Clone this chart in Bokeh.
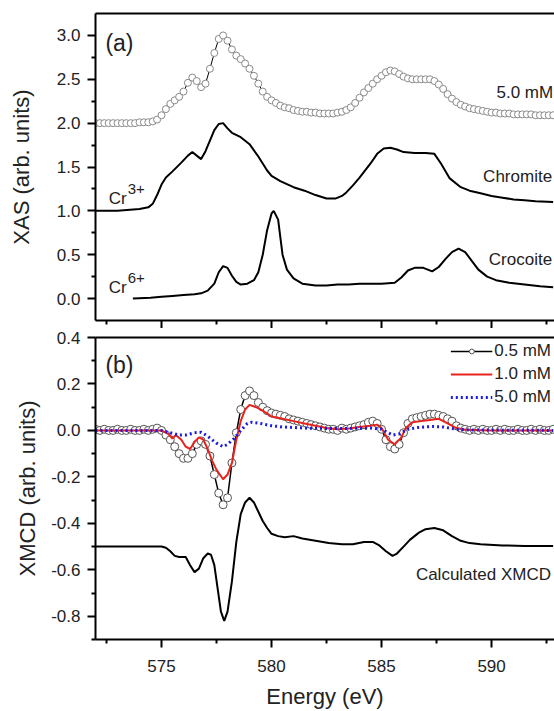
from bokeh.plotting import figure
from bokeh.models import (Range1d, FixedTicker, LinearAxis, Label, Legend, LegendItem,
                          PrintfTickFormatter, CustomJSTickFormatter)
from bokeh.layouts import column
from bokeh.embed import file_html
from bokeh.resources import INLINE

FONT = "Liberation Sans"

# ---------------- data ----------------
# common energy grid of the measured (circle) spectra, eV
energy_pts = [572.0, 572.2, 572.4, 572.6, 572.8, 573.0, 573.2, 573.4, 573.6, 573.8,
              574.0, 574.2, 574.4, 574.6, 574.8, 575.0, 575.2, 575.4, 575.6, 575.8,
              576.0, 576.2, 576.4, 576.6, 576.8, 577.0, 577.2, 577.4, 577.6, 577.8,
              578.0, 578.2, 578.4, 578.6, 578.8, 579.0, 579.2, 579.4, 579.6, 579.8,
              580.0, 580.2, 580.4, 580.6, 580.8, 581.0, 581.2, 581.4, 581.6, 581.8,
              582.0, 582.2, 582.4, 582.6, 582.8, 583.0, 583.2, 583.4, 583.6, 583.8,
              584.0, 584.2, 584.4, 584.6, 584.8, 585.0, 585.2, 585.4, 585.6, 585.8,
              586.0, 586.2, 586.4, 586.6, 586.8, 587.0, 587.2, 587.4, 587.6, 587.8,
              588.0, 588.2, 588.4, 588.6, 588.8, 589.0, 589.2, 589.4, 589.6, 589.8,
              590.0, 590.2, 590.4, 590.6, 590.8, 591.0, 591.2, 591.4, 591.6, 591.8,
              592.0, 592.2, 592.4, 592.6, 592.8]

# (a) XAS 5.0 mM (offset +2)
xas_5mM = [2.00, 2.00, 2.00, 2.00, 2.00, 2.00, 2.00, 2.00, 2.00, 2.00,
           2.01, 2.01, 2.01, 2.02, 2.04, 2.09, 2.16, 2.22, 2.26, 2.30,
           2.36, 2.46, 2.52, 2.48, 2.41, 2.45, 2.62, 2.80, 2.96, 3.00,
           2.94, 2.84, 2.77, 2.73, 2.68, 2.62, 2.54, 2.45, 2.36, 2.30,
           2.26, 2.23, 2.20, 2.18, 2.17, 2.15, 2.14, 2.13, 2.13, 2.12,
           2.12, 2.11, 2.11, 2.11, 2.11, 2.12, 2.13, 2.15, 2.18, 2.23,
           2.29, 2.35, 2.40, 2.45, 2.50, 2.54, 2.58, 2.60, 2.59, 2.56,
           2.53, 2.51, 2.50, 2.50, 2.50, 2.50, 2.50, 2.48, 2.44, 2.39,
           2.33, 2.28, 2.24, 2.21, 2.19, 2.17, 2.16, 2.15, 2.14, 2.13,
           2.12, 2.12, 2.11, 2.11, 2.11, 2.10, 2.10, 2.10, 2.10, 2.10,
           2.09, 2.09, 2.09, 2.09, 2.09]

# (a) Chromite, Cr3+ reference (offset +1)
chromite_e = [572.0, 573.0, 574.0, 574.4, 574.6, 574.8, 575.0, 575.2, 575.5, 575.9,
              576.2, 576.4, 576.6, 576.8, 577.0, 577.2, 577.4, 577.6, 577.8, 578.0,
              578.2, 578.6, 579.0, 579.4, 579.8, 580.0, 580.4, 581.0, 581.5, 582.0,
              582.5, 582.9, 583.2, 583.4, 583.7, 584.0, 584.5, 584.8, 585.1, 585.4,
              585.7, 586.0, 586.5, 587.0, 587.4, 587.7, 588.1, 588.6, 589.0, 589.5,
              590.0, 590.5, 591.0, 591.5, 592.0, 592.8]
chromite_v = [1.00, 1.00, 1.02, 1.04, 1.08, 1.18, 1.30, 1.38, 1.45, 1.55,
              1.63, 1.67, 1.63, 1.59, 1.68, 1.80, 1.92, 1.99, 2.00, 1.94,
              1.89, 1.84, 1.76, 1.62, 1.46, 1.40, 1.34, 1.27, 1.23, 1.18,
              1.14, 1.14, 1.17, 1.21, 1.29, 1.38, 1.54, 1.65, 1.71, 1.72,
              1.70, 1.67, 1.66, 1.66, 1.65, 1.54, 1.37, 1.27, 1.23, 1.20,
              1.17, 1.15, 1.13, 1.12, 1.11, 1.10]

# (a) Crocoite, Cr6+ reference
crocoite_e = [573.7, 574.5, 575.0, 575.5, 576.0, 576.5, 576.8, 577.1, 577.4, 577.6,
              577.8, 578.0, 578.2, 578.4, 578.6, 578.9, 579.2, 579.4, 579.6, 579.8,
              580.0, 580.1, 580.3, 580.5, 580.7, 581.0, 581.4, 582.0, 582.5, 583.0,
              583.5, 584.0, 584.5, 585.0, 585.6, 585.9, 586.2, 586.5, 586.9, 587.3,
              587.6, 587.9, 588.2, 588.5, 588.8, 589.1, 589.4, 589.8, 590.2, 590.8,
              591.5, 592.2, 592.8]
crocoite_v = [0.00, 0.01, 0.02, 0.03, 0.04, 0.05, 0.06, 0.09, 0.17, 0.30,
              0.37, 0.35, 0.26, 0.19, 0.16, 0.17, 0.21, 0.30, 0.50, 0.78,
              0.97, 1.00, 0.90, 0.50, 0.33, 0.23, 0.17, 0.15, 0.15, 0.16,
              0.16, 0.17, 0.17, 0.17, 0.18, 0.24, 0.32, 0.35, 0.35, 0.31,
              0.36, 0.45, 0.53, 0.57, 0.53, 0.43, 0.33, 0.25, 0.21, 0.18,
              0.16, 0.14, 0.13]

# (b) XMCD 0.5 mM (circles)
xmcd_05mM = [0.005, 0.0, 0.005, 0.0, 0.0, 0.005, 0.0, 0.0, 0.005, 0.0,
             0.0, 0.005, 0.0, 0.005, 0.01, 0.0, -0.02, -0.04, -0.07, -0.10,
             -0.12, -0.12, -0.10, -0.06, -0.045, -0.06, -0.11, -0.19, -0.27, -0.32,
             -0.29, -0.14, -0.01, 0.09, 0.15, 0.17, 0.15, 0.12, 0.10, 0.085,
             0.075, 0.07, 0.065, 0.06, 0.05, 0.045, 0.04, 0.035, 0.03, 0.025,
             0.02, 0.015, 0.01, 0.005, 0.005, 0.0, 0.01, 0.005, 0.01, 0.015,
             0.02, 0.025, 0.035, 0.04, 0.03, 0.005, -0.04, -0.07, -0.08, -0.06,
             -0.01, 0.03, 0.05, 0.055, 0.06, 0.065, 0.07, 0.07, 0.065, 0.06,
             0.05, 0.04, 0.02, 0.01, 0.005, 0.0, 0.005, 0.0, 0.005, 0.0,
             0.0, 0.005, 0.0, 0.005, 0.0, 0.0, 0.005, 0.0, 0.0, 0.005,
             0.0, 0.005, 0.0, 0.0, 0.005]

# (b) XMCD 1.0 mM (red line)
xmcd_10_e = [572.0, 575.0, 575.3, 575.5, 575.65, 575.9, 576.1, 576.3, 576.5, 576.7,
             576.9, 577.1, 577.3, 577.5, 577.8, 578.0, 578.2, 578.4, 578.6, 578.8,
             579.0, 579.3, 579.6, 580.0, 580.5, 581.0, 581.5, 582.0, 582.5, 583.0,
             583.5, 584.0, 584.5, 584.8, 585.0, 585.3, 585.6, 585.9, 586.1, 586.4,
             586.8, 587.2, 587.6, 588.0, 588.4, 588.8, 590.0, 592.8]
xmcd_10_v = [0.0, 0.0, -0.015, -0.035, -0.02, -0.04, -0.07, -0.08, -0.05, -0.03,
             -0.04, -0.08, -0.13, -0.17, -0.21, -0.19, -0.14, -0.04, 0.04, 0.09,
             0.11, 0.10, 0.085, 0.06, 0.05, 0.04, 0.03, 0.02, 0.01, 0.005,
             0.008, 0.015, 0.02, 0.025, 0.01, -0.04, -0.06, -0.03, 0.01, 0.035,
             0.04, 0.045, 0.05, 0.03, 0.01, 0.003, 0.0, 0.0]

# (b) XMCD 5.0 mM (blue dotted)
xmcd_50_e = [572.0, 575.0, 575.4, 575.8, 576.1, 576.5, 576.8, 577.1, 577.5, 577.8,
             578.0, 578.3, 578.6, 578.9, 579.1, 579.5, 580.0, 580.5, 581.5, 583.0,
             584.5, 585.0, 585.5, 585.8, 586.2, 586.6, 587.3, 587.8, 588.4, 589.0,
             592.8]
xmcd_50_v = [0.0, 0.0, -0.01, -0.02, -0.02, -0.01, -0.008, -0.025, -0.055, -0.07,
             -0.06, -0.035, 0.0, 0.03, 0.035, 0.03, 0.02, 0.015, 0.01, 0.008,
             0.01, 0.005, -0.02, -0.015, 0.005, 0.012, 0.017, 0.015, 0.005, 0.002,
             0.0]

# (b) calculated XMCD (offset -0.5)
calc_e = [572.0, 575.0, 575.2, 575.4, 575.6, 575.8, 576.1, 576.3, 576.5, 576.7,
          576.9, 577.1, 577.25, 577.4, 577.55, 577.7, 577.85, 578.0, 578.2, 578.4,
          578.6, 578.8, 579.0, 579.2, 579.4, 579.6, 579.8, 580.0, 580.3, 580.6,
          581.0, 581.4, 582.0, 582.6, 583.2, 583.7, 584.2, 584.6, 584.9, 585.2,
          585.5, 585.7, 586.0, 586.3, 586.7, 587.0, 587.4, 587.8, 588.2, 588.6,
          589.0, 589.5, 590.5, 591.5, 592.8]
calc_v = [-0.5, -0.5, -0.505, -0.52, -0.54, -0.545, -0.545, -0.58, -0.61, -0.595,
          -0.55, -0.53, -0.535, -0.58, -0.68, -0.78, -0.82, -0.78, -0.65, -0.48,
          -0.36, -0.31, -0.29, -0.31, -0.35, -0.39, -0.42, -0.445, -0.455, -0.46,
          -0.455, -0.465, -0.475, -0.485, -0.49, -0.49, -0.48, -0.48, -0.495, -0.52,
          -0.54, -0.53, -0.50, -0.47, -0.44, -0.425, -0.42, -0.43, -0.455, -0.475,
          -0.485, -0.49, -0.495, -0.497, -0.498]

x_major = [575, 580, 585, 590]
x_minor = [572.5, 577.5, 582.5, 587.5, 592.5]
ya_major = [0.0, 0.5, 1.0, 1.5, 2.0, 2.5, 3.0]
ya_minor = [0.25, 0.75, 1.25, 1.75, 2.25, 2.75]
yb_major = [-0.8, -0.6, -0.4, -0.2, 0.0, 0.2, 0.4]
yb_minor = [-0.9, -0.7, -0.5, -0.3, -0.1, 0.1, 0.3]


def style_axis(ax):
    ax.axis_line_width = 2
    ax.axis_line_color = "black"
    ax.major_tick_line_width = 2
    ax.minor_tick_line_width = 2
    ax.major_tick_out = 8
    ax.major_tick_in = 0
    ax.minor_tick_out = 4
    ax.minor_tick_in = 0
    ax.major_label_text_font = FONT
    ax.major_label_text_font_size = "17px"
    ax.major_label_text_color = "#222222"
    ax.axis_label_text_font = FONT
    ax.axis_label_text_font_size = "22px"
    ax.axis_label_text_font_style = "normal"
    ax.axis_label_text_color = "#222222"


def top_border(p):
    ax = LinearAxis(ticker=FixedTicker(ticks=[]), major_label_text_font_size="0px",
                    major_tick_out=0, minor_tick_out=0, major_label_standoff=0,
                    axis_line_width=2, axis_line_color="black")
    p.add_layout(ax, "above")


XR = (572.0, 592.86)

# ---------------- panel (a) ----------------
p1 = figure(width=554, height=328, x_range=Range1d(*XR), y_range=Range1d(-0.25, 3.25),
            output_backend="svg", toolbar_location=None,
            min_border_left=95, min_border_right=0, min_border_top=13, min_border_bottom=8)
p1.outline_line_color = None
p1.grid.visible = False
style_axis(p1.xaxis[0])
style_axis(p1.yaxis[0])
p1.xaxis.ticker = FixedTicker(ticks=x_major, minor_ticks=x_minor)
p1.xaxis.formatter = CustomJSTickFormatter(code="return ''")
p1.xaxis.major_label_text_font_size = "0px"
p1.xaxis.major_label_standoff = 0
p1.yaxis.ticker = FixedTicker(ticks=ya_major, minor_ticks=ya_minor)
p1.yaxis.formatter = PrintfTickFormatter(format="%.1f")
p1.yaxis.major_label_standoff = 7
p1.yaxis.axis_label = "XAS (arb. units)"
p1.yaxis.axis_label_standoff = 20
top_border(p1)

p1.line(energy_pts, xas_5mM, line_color="black", line_width=1)
p1.scatter(energy_pts, xas_5mM, marker="circle", size=7, fill_color="white",
           line_color="#8a8a8a", line_width=1)
p1.line(chromite_e, chromite_v, line_color="black", line_width=2)
p1.line(crocoite_e, crocoite_v, line_color="black", line_width=2)

lab = dict(text_font=FONT, text_font_size="17px", text_color="#222222")
p1.add_layout(Label(x=572.45, y=2.91, text="(a)", text_baseline="middle",
                    text_font=FONT, text_font_size="23px", text_color="#222222"))
p1.add_layout(Label(x=592.8, y=2.35, text="5.0 mM", text_align="right", text_baseline="middle", **lab))
p1.add_layout(Label(x=592.75, y=1.39, text="Chromite", text_align="right", text_baseline="middle", **lab))
p1.add_layout(Label(x=592.75, y=0.44, text="Crocoite", text_align="right", text_baseline="middle", **lab))
p1.add_layout(Label(x=572.6, y=1.14, text="Cr", text_baseline="alphabetic", **lab))
p1.add_layout(Label(x=572.6, y=1.14, x_offset=19, y_offset=10, text="3+", text_baseline="alphabetic",
                    text_font=FONT, text_font_size="15px", text_color="#222222"))
p1.add_layout(Label(x=572.6, y=0.125, text="Cr", text_baseline="alphabetic", **lab))
p1.add_layout(Label(x=572.6, y=0.125, x_offset=19, y_offset=10, text="6+", text_baseline="alphabetic",
                    text_font=FONT, text_font_size="15px", text_color="#222222"))

# ---------------- panel (b) ----------------
p2 = figure(width=554, height=383, x_range=Range1d(*XR), y_range=Range1d(-0.9, 0.4),
            output_backend="svg", toolbar_location=None,
            min_border_left=95, min_border_right=0, min_border_top=9, min_border_bottom=10)
p2.outline_line_color = None
p2.grid.visible = False
style_axis(p2.xaxis[0])
style_axis(p2.yaxis[0])
p2.xaxis.ticker = FixedTicker(ticks=x_major, minor_ticks=x_minor)
p2.xaxis.major_label_standoff = 12
p2.xaxis.axis_label = "Energy (eV)"
p2.xaxis.axis_label_standoff = 9
p2.yaxis.ticker = FixedTicker(ticks=yb_major, minor_ticks=yb_minor)
p2.yaxis.formatter = PrintfTickFormatter(format="%.1f")
p2.yaxis.major_label_standoff = 7
p2.yaxis.axis_label = "XMCD (arb. units)"
p2.yaxis.axis_label_standoff = 8
top_border(p2)

r05l = p2.line(energy_pts, xmcd_05mM, line_color="black", line_width=1.5)
r05c = p2.scatter(energy_pts, xmcd_05mM, marker="circle", size=8, fill_color="white",
                  line_color="#555555", line_width=1)
r10 = p2.line(xmcd_10_e, xmcd_10_v, line_color="#e8231d", line_width=2)
r50 = p2.line(xmcd_50_e, xmcd_50_v, line_color="#1a1ae6", line_width=3, line_dash="2 3")
p2.line(calc_e, calc_v, line_color="black", line_width=2)

legend = Legend(items=[LegendItem(label="0.5 mM", renderers=[r05l, r05c]),
                       LegendItem(label="1.0 mM", renderers=[r10]),
                       LegendItem(label="5.0 mM", renderers=[r50])],
                location="top_right", margin=3, padding=5, spacing=2,
                label_height=21, glyph_height=12, glyph_width=42, label_standoff=2,
                label_text_font=FONT, label_text_font_size="17px", label_text_color="#222222",
                border_line_color=None, background_fill_alpha=0)
p2.add_layout(legend)

p2.add_layout(Label(x=572.45, y=0.28, text="(b)", text_baseline="middle",
                    text_font=FONT, text_font_size="23px", text_color="#222222"))
p2.add_layout(Label(x=592.7, y=-0.622, text="Calculated XMCD", text_align="right",
                    text_baseline="middle", **lab))

layout = column(p1, p2, spacing=0)
open("out.html", "w").write(file_html(layout, INLINE))
